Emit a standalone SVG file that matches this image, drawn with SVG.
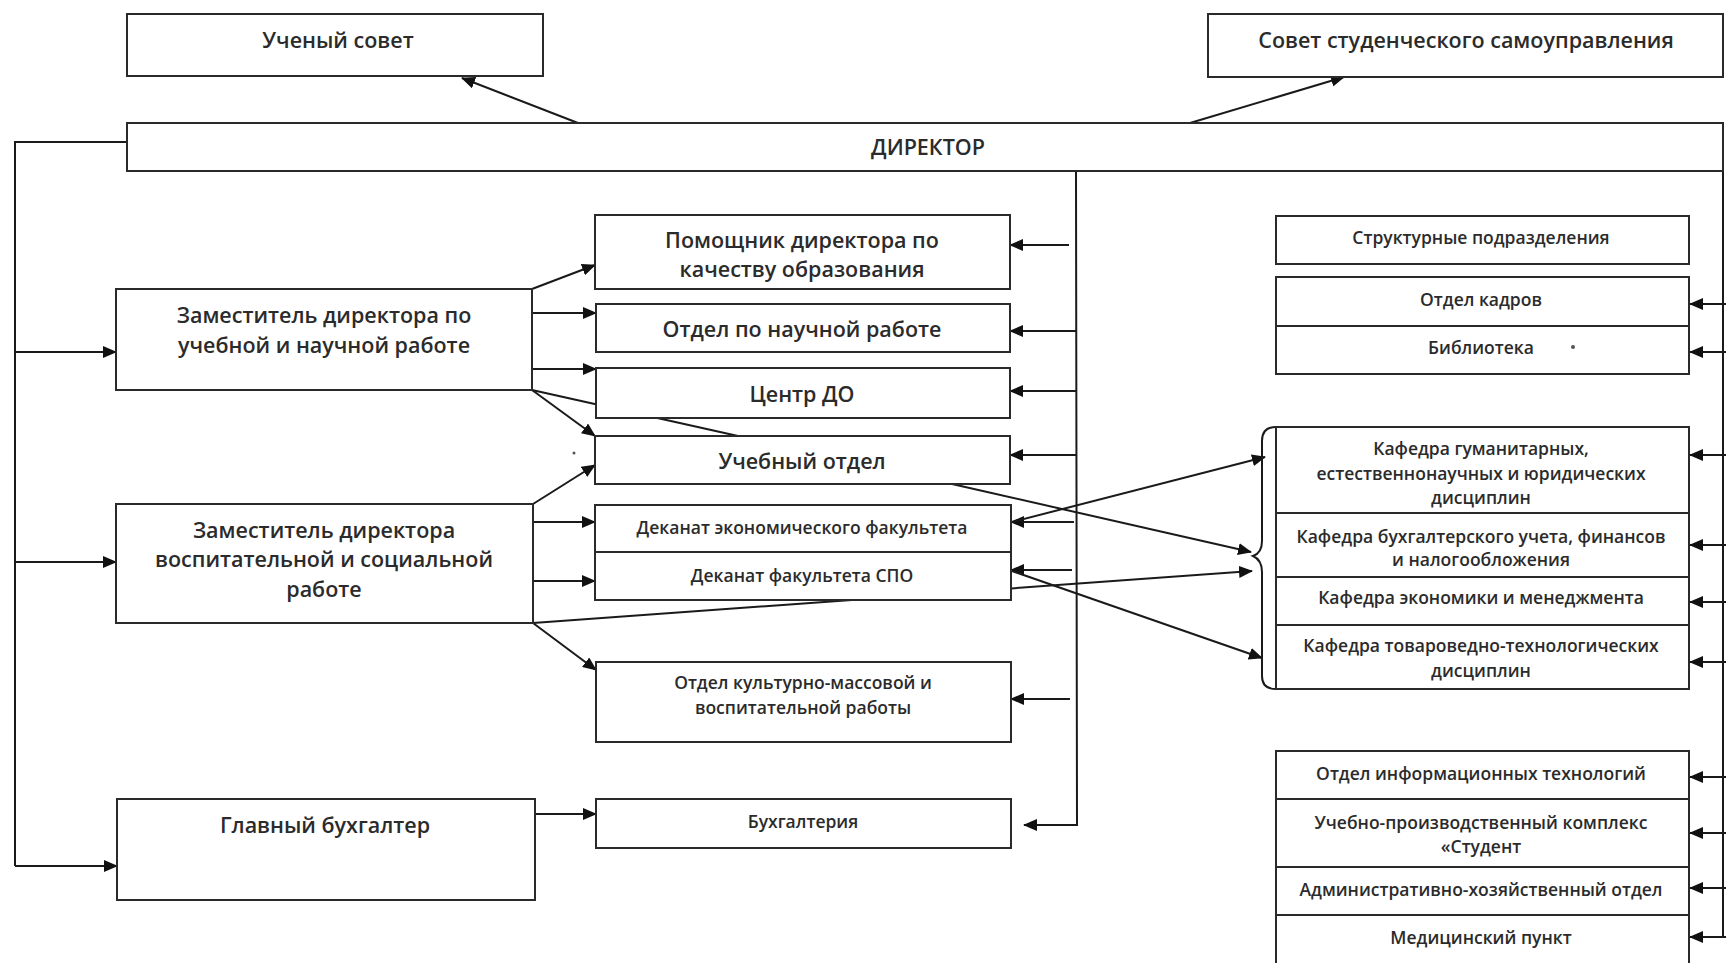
<svg xmlns="http://www.w3.org/2000/svg" width="1726" height="963" viewBox="0 0 1726 963">
<style>
.box{fill:#fff;stroke:#2a2a2a;stroke-width:2}
.div{stroke:#2a2a2a;stroke-width:2}
.t{font-family:"Open Sans","Noto Sans",sans-serif;font-weight:600;fill:#2b2b2b;text-anchor:middle;dominant-baseline:central}
.b{font-size:21.5px}
.s{font-size:17.5px}
.c line,.c path,.c polyline{stroke:#1a1a1a;stroke-width:2;fill:none}
.a{marker-end:url(#ah)}
</style>
<defs>
<marker id="ah" markerUnits="userSpaceOnUse" markerWidth="14" markerHeight="12" refX="13" refY="6" orient="auto">
<path d="M0,0 L14,6 L0,12 z" fill="#111"/>
</marker>
</defs>
<rect width="1726" height="963" fill="#fff"/>

<!-- connectors drawn beneath boxes -->
<g id="connectors" class="c">
<line x1="578" y1="123" x2="462" y2="78" class="a"/>
<line x1="1190" y1="123" x2="1344" y2="77" class="a"/>
<polyline points="127,142 15,142 15,866"/>
<line x1="15" y1="352" x2="116" y2="352" class="a"/>
<line x1="15" y1="562" x2="116" y2="562" class="a"/>
<line x1="15" y1="866" x2="117" y2="866" class="a"/>
<polyline points="1076,171 1077,825 1024,825" class="a"/>
<line x1="1069" y1="245" x2="1010" y2="245" class="a"/>
<line x1="1076" y1="331" x2="1010" y2="331" class="a"/>
<line x1="1076" y1="391" x2="1010" y2="391" class="a"/>
<line x1="1076" y1="455" x2="1010" y2="455" class="a"/>
<line x1="1074" y1="522" x2="1011" y2="522" class="a"/>
<line x1="1072" y1="570" x2="1011" y2="570" class="a"/>
<line x1="1070" y1="699" x2="1011" y2="699" class="a"/>
<line x1="532" y1="289" x2="595" y2="265" class="a"/>
<line x1="532" y1="313" x2="596" y2="313" class="a"/>
<line x1="532" y1="369" x2="596" y2="369" class="a"/>
<line x1="532" y1="390" x2="738" y2="436"/>
<line x1="532" y1="390" x2="595" y2="436" class="a"/>
<line x1="533" y1="504" x2="595" y2="465" class="a"/>
<line x1="533" y1="522" x2="595" y2="522" class="a"/>
<line x1="533" y1="581" x2="595" y2="581" class="a"/>
<line x1="533" y1="623" x2="1252" y2="571" class="a"/>
<line x1="533" y1="623" x2="596" y2="670" class="a"/>
<line x1="535" y1="814" x2="596" y2="814" class="a"/>
<line x1="952" y1="484" x2="1251" y2="552" class="a"/>
<line x1="1012" y1="522" x2="1265" y2="457" class="a"/>
<line x1="1012" y1="571" x2="1262" y2="658" class="a"/>
<path d="M1276,427 Q1262,427 1262,441 L1262,541 Q1262,553 1253,556 Q1262,560 1262,572 L1262,676 Q1262,689 1276,689"/>
<line x1="1723" y1="171" x2="1723" y2="937"/>
<line x1="1726" y1="304" x2="1690" y2="304" class="a"/>
<line x1="1726" y1="352" x2="1690" y2="352" class="a"/>
<line x1="1726" y1="455" x2="1690" y2="455" class="a"/>
<line x1="1726" y1="545" x2="1690" y2="545" class="a"/>
<line x1="1726" y1="602" x2="1690" y2="602" class="a"/>
<line x1="1726" y1="662" x2="1690" y2="662" class="a"/>
<line x1="1726" y1="777" x2="1690" y2="777" class="a"/>
<line x1="1726" y1="833" x2="1690" y2="833" class="a"/>
<line x1="1726" y1="888" x2="1690" y2="888" class="a"/>
<line x1="1726" y1="937" x2="1690" y2="937" class="a"/>
</g>

<g id="uchsovet"><rect class="box" x="127" y="14" width="416" height="62"/><text class="t b" x="338" y="39">Ученый совет</text></g>
<g id="sovet-stud"><rect class="box" x="1208" y="14" width="515" height="63"/><text class="t b" x="1466" y="39">Совет студенческого самоуправления</text></g>
<g id="director"><rect class="box" x="127" y="123" width="1596" height="48"/><text class="t b" x="928" y="146">ДИРЕКТОР</text></g>
<g id="zam1"><rect class="box" x="116" y="289" width="416" height="101"/><text class="t b" x="324" y="314">Заместитель директора по</text><text class="t b" x="324" y="344">учебной и научной работе</text></g>
<g id="zam2"><rect class="box" x="116" y="504" width="417" height="119"/><text class="t b" x="324" y="529">Заместитель директора</text><text class="t b" x="324" y="558">воспитательной и социальной</text><text class="t b" x="324" y="588">работе</text></g>
<g id="glbuh"><rect class="box" x="117" y="799" width="418" height="101"/><text class="t b" x="325" y="824">Главный бухгалтер</text></g>
<g id="pomosh"><rect class="box" x="595" y="215" width="415" height="74"/><text class="t b" x="802" y="239">Помощник директора по</text><text class="t b" x="802" y="268">качеству образования</text></g>
<g id="nauch"><rect class="box" x="596" y="304" width="414" height="48"/><text class="t b" x="802" y="328">Отдел по научной работе</text></g>
<g id="centr-do"><rect class="box" x="596" y="368" width="414" height="50"/><text class="t b" x="802" y="393">Центр ДО</text></g>
<g id="ucheb"><rect class="box" x="595" y="436" width="415" height="48"/><text class="t b" x="802" y="460">Учебный отдел</text></g>
<g id="dekanat"><rect class="box" x="595" y="505" width="416" height="95"/><line class="div" x1="595" y1="552" x2="1011" y2="552"/><text class="t s" x="802" y="527">Деканат экономического факультета</text><text class="t s" x="802" y="575">Деканат факультета СПО</text></g>
<g id="kultmass"><rect class="box" x="596" y="662" width="415" height="80"/><text class="t s" x="803" y="682">Отдел культурно-массовой и</text><text class="t s" x="803" y="707">воспитательной работы</text></g>
<g id="buh"><rect class="box" x="596" y="799" width="415" height="49"/><text class="t s" x="803" y="821">Бухгалтерия</text></g>
<g id="struct"><rect class="box" x="1276" y="216" width="413" height="48"/><text class="t s" x="1481" y="237">Структурные подразделения</text></g>
<g id="kadry-bibl"><rect class="box" x="1276" y="277" width="413" height="97"/><line class="div" x1="1276" y1="326" x2="1689" y2="326"/><text class="t s" x="1481" y="299">Отдел кадров</text><text class="t s" x="1481" y="347">Библиотека</text><circle cx="1573" cy="347" r="2" fill="#555"/></g>
<g id="kafedry"><rect class="box" x="1276" y="427" width="413" height="262"/><line class="div" x1="1276" y1="513" x2="1689" y2="513"/><line class="div" x1="1276" y1="577" x2="1689" y2="577"/><line class="div" x1="1276" y1="625" x2="1689" y2="625"/>
<text class="t s" x="1481" y="448">Кафедра гуманитарных,</text><text class="t s" x="1481" y="473">естественнонаучных и юридических</text><text class="t s" x="1481" y="497">дисциплин</text>
<text class="t s" x="1481" y="536">Кафедра бухгалтерского учета, финансов</text><text class="t s" x="1481" y="559">и налогообложения</text>
<text class="t s" x="1481" y="597">Кафедра экономики и менеджмента</text>
<text class="t s" x="1481" y="645">Кафедра товароведно-технологических</text><text class="t s" x="1481" y="670">дисциплин</text></g>
<g id="services"><rect class="box" x="1276" y="751" width="413" height="214"/><line class="div" x1="1276" y1="799" x2="1689" y2="799"/><line class="div" x1="1276" y1="867" x2="1689" y2="867"/><line class="div" x1="1276" y1="915" x2="1689" y2="915"/>
<text class="t s" x="1481" y="773">Отдел информационных технологий</text>
<text class="t s" x="1481" y="822">Учебно-производственный комплекс</text><text class="t s" x="1481" y="846">«Студент</text>
<text class="t s" x="1481" y="889">Административно-хозяйственный отдел</text>
<text class="t s" x="1481" y="937">Медицинский пункт</text></g>
<circle cx="574" cy="453" r="1.5" fill="#555"/>
</svg>
